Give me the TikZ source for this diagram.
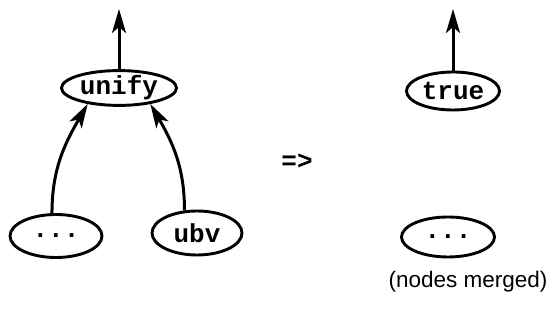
\documentclass[tikz,border=0pt]{standalone}
\usepackage{fontspec}
\setmainfont{Liberation Sans}
\setmonofont{Liberation Mono}
\usetikzlibrary{shapes.geometric,arrows.meta}
\begin{document}
\begin{tikzpicture}[x=1pt,y=1pt,
  nd/.style={draw,ellipse,line width=2.9pt,inner sep=0pt,font=\ttfamily\bfseries\fontsize{26}{28}\selectfont},
  arr/.style={line width=3pt,-{Stealth[length=24pt,width=14pt,inset=6pt]}},
  lbl/.style={inner sep=0pt}
]
\useasboundingbox (0,0) rectangle (556,323);
\node[nd,minimum width=115pt,minimum height=33pt] (unify) at (119,235) {unify};
\node[nd,minimum width=92pt,minimum height=43pt] (dl) at (56,87) {...};
\node[nd,minimum width=90pt,minimum height=44pt] (ubv) at (197,90) {ubv};
\node[nd,minimum width=93pt,minimum height=38pt] (true) at (453,232) {true};
\node[nd,minimum width=93pt,minimum height=40pt] (dr) at (448,86) {...};
\node[lbl,font=\ttfamily\bfseries\fontsize{26}{28}\selectfont] (impl) at (297,161) {=>};
\node[lbl,font=\fontsize{22.5}{24}\selectfont] (merged) at (468,41) {(nodes merged)};
\coordinate (t1) at (119,314);
\coordinate (t2) at (453,314);
\draw[arr] (unify.north) -- (t1);
\draw[arr] (true.north) -- (t2);
\draw[arr] (dl.100) to[out=90,in=-120] (unify.207);
\draw[arr] (ubv.119) to[out=90,in=-60] (unify.333);
\end{tikzpicture}
\end{document}
